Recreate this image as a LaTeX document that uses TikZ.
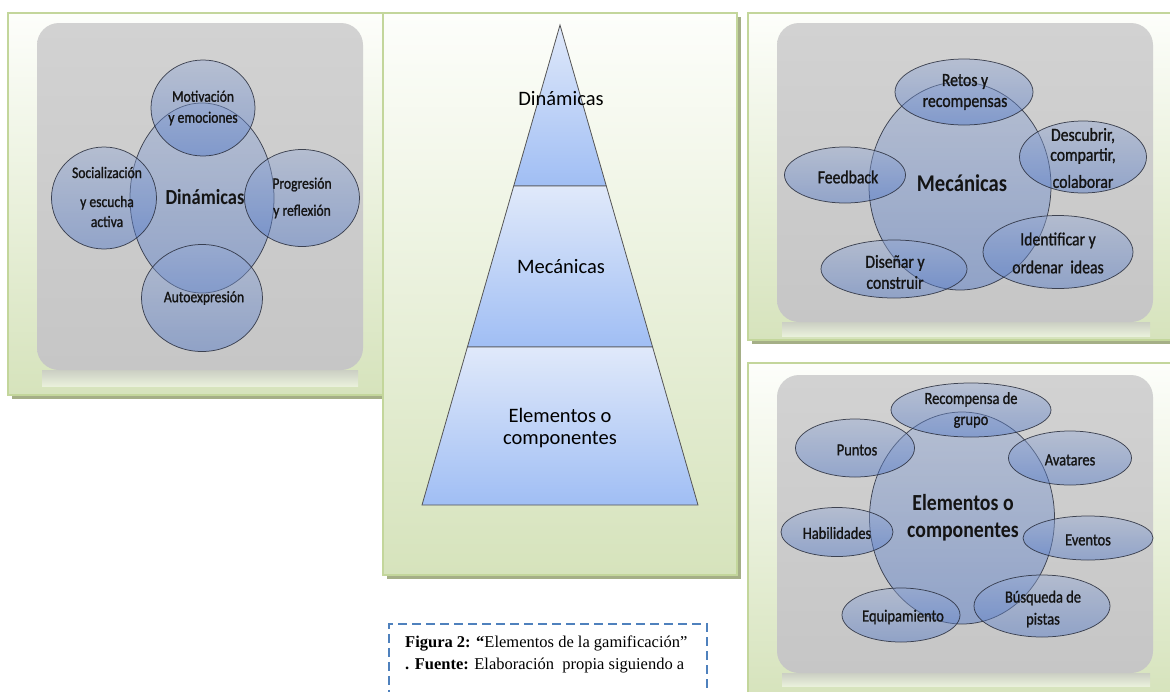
\documentclass[tikz,border=0pt]{standalone}
\usepackage{fontspec}
\setmainfont{Liberation Serif}
\newfontfamily\calib{Carlito}
\newfontfamily\calibc[FakeStretch=0.85, FakeBold=1.1]{Carlito}
\newfontfamily\calibcb[FakeStretch=0.86]{Carlito Bold}
\usetikzlibrary{shapes.geometric}
\definecolor{frameborder}{RGB}{195,214,155}
\definecolor{frametop}{RGB}{253,254,251}
\definecolor{framebot}{RGB}{214,227,188}
\definecolor{frameshadow}{RGB}{165,175,135}
\definecolor{graytop}{RGB}{210,210,210}
\definecolor{graybot}{RGB}{198,198,198}
\definecolor{bubtop}{RGB}{150,170,212}
\definecolor{bubbot}{RGB}{78,118,200}
\definecolor{bubline}{RGB}{40,45,60}
\definecolor{pyrtop}{RGB}{224,233,250}
\definecolor{pyrbot}{RGB}{160,190,244}
\definecolor{pyrline}{RGB}{85,85,85}
\definecolor{capblue}{RGB}{79,129,189}
\definecolor{txt}{RGB}{20,20,20}
\tikzset{
  framebox/.style={draw=frameborder, line width=1.5, top color=frametop, bottom color=framebot},
  shadowbox/.style={fill=frameshadow},
  graypanel/.style={top color=graytop, bottom color=graybot, rounded corners=22},
  reflect/.style={top color=graybot!70!framebot, bottom color=framebot!50!frametop},
  bub/.style={ellipse, draw=bubline, line width=0.75, draw opacity=0.85,
    top color=bubtop, bottom color=bubbot, fill opacity=0.45, inner sep=0, text opacity=1},
  pyr/.style={draw=pyrline, line width=0.8, top color=pyrtop, bottom color=pyrbot},
  lblL/.style={text=txt, align=center, font=\calibc\fontsize{16}{21}\selectfont},
  lblM/.style={text=txt, align=center, font=\calibc\fontsize{18.5}{21}\selectfont},
  lblE/.style={text=txt, align=center, font=\calibc\fontsize{17}{21}\selectfont},
  pyrtxt/.style={text=black, align=center, font=\calib\fontsize{20.5}{22}\selectfont},
  captxt/.style={anchor=west, inner sep=0, text=black, font=\fontsize{16.5}{20}\selectfont},
}
\begin{document}
\begin{tikzpicture}[x=1pt,y=-1pt]
\useasboundingbox (0,0) rectangle (1170,691);
\clip (0,0) rectangle (1170,691);
\fill[white] (0,0) rectangle (1170,691);

% ---------- left panel (Dinamicas) ----------
\fill[shadowbox] (12,17) rectangle (389,399);
\path[framebox] (8,13) rectangle (385,395);
\path[reflect] (42,370) rectangle (358,386);
\path[graypanel] (37,23) rectangle (363,370);
\node[bub, minimum width=144, minimum height=190] (dcen) at (202,198) {};
\node[bub, minimum width=104, minimum height=96] (mot) at (203,108) {};
\node[bub, minimum width=105, minimum height=102] (soc) at (104,198) {};
\node[bub, minimum width=115, minimum height=97] (pro) at (302,198) {};
\node[bub, minimum width=121, minimum height=107] (aut) at (202,298) {};
\node[text=txt, font=\calibcb\fontsize{21.5}{24}\selectfont] (dcen-t) at (205,197) {Dinámicas};
\node[lblL] (mot-t) at (mot.center) {Motivación\\y emociones};
\node[lblL] (soc-t) at (107,197) {Socialización\\[8pt]y escucha\\[-1pt]activa};
\node[lblL] (pro-t) at (302,198) {Progresión\\[6pt]y reflexión};
\node[lblL] (aut-t) at (204,298) {Autoexpresión};

% ---------- middle panel (pyramid) ----------
\fill[shadowbox] (387,17) rectangle (741,579);
\path[framebox] (383,13) rectangle (737,575);
\path[pyr] (560,25) -- (606.3,186) -- (513.7,186) -- cycle;
\path[pyr] (513.7,186) -- (606.3,186) -- (652.6,347) -- (467.4,347) -- cycle;
\path[pyr] (467.4,347) -- (652.6,347) -- (698,505) -- (422,505) -- cycle;
\node[pyrtxt] (p1) at (561,99) {Dinámicas};
\node[pyrtxt] (p2) at (561,267) {Mecánicas};
\node[pyrtxt] (p3) at (560,428) {Elementos o\\componentes};

% ---------- top right panel (Mecanicas) ----------
\fill[shadowbox] (752,17) rectangle (1176,344);
\path[framebox] (748,13) rectangle (1172,340);
\path[reflect] (782,322) rectangle (1150,336);
\path[graypanel] (777,23) rectangle (1153,322);
\node[bub, minimum width=182, minimum height=208] (mcen) at (960,186) {};
\node[bub, minimum width=138, minimum height=66] (ret) at (964,92) {};
\node[bub, minimum width=127, minimum height=72] (des) at (1083,157) {};
\node[bub, minimum width=121, minimum height=56] (fee) at (845,175) {};
\node[bub, minimum width=150, minimum height=73] (ide) at (1058,252) {};
\node[bub, minimum width=146, minimum height=58] (dis) at (894,269) {};
\node[text=txt, font=\calibcb\fontsize{24}{26}\selectfont] (mcen-t) at (962,183) {Mecánicas};
\node[lblM] (ret-t) at (965,92) {Retos y\\recompensas};
\node[lblM] (des-t) at (1083,158) {Descubrir,\\[-1pt]compartir,\\[6pt]colaborar};
\node[lblM] (fee-t) at (848,177) {Feedback};
\node[lblM] (ide-t) at (1058,253) {Identificar y\\[7pt]ordenar\ \ ideas};
\node[lblM] (dis-t) at (895,272) {Diseñar y\\construir};

% ---------- bottom right panel (Elementos) ----------
\fill[shadowbox] (752,367) rectangle (1176,700);
\path[framebox] (748,363) rectangle (1172,696);
\path[reflect] (782,673) rectangle (1150,686);
\path[graypanel] (777,375) rectangle (1153,673);
\node[bub, minimum width=185, minimum height=212] (ecen) at (962,518) {};
\node[bub, minimum width=160, minimum height=54] (rec) at (971,410) {};
\node[bub, minimum width=119, minimum height=58] (pun) at (855,448) {};
\node[bub, minimum width=123, minimum height=54] (ava) at (1070,458) {};
\node[bub, minimum width=112, minimum height=49] (hab) at (837,532) {};
\node[bub, minimum width=130, minimum height=44] (eve) at (1088,538) {};
\node[bub, minimum width=136, minimum height=62] (bus) at (1042,606) {};
\node[bub, minimum width=118, minimum height=54] (equ) at (901,615) {};
\node[text=txt, align=center, font=\calibcb\fontsize{23}{27}\selectfont] (ecen-t) at (963,518) {Elementos o\\componentes};
\node[lblE] (rec-t) at (971,410) {Recompensa de\\grupo};
\node[lblE] (pun-t) at (857,450) {Puntos};
\node[lblE] (ava-t) at (1070,460) {Avatares};
\node[lblE] (hab-t) at (837,533) {Habilidades};
\node[lblE] (eve-t) at (1088,540) {Eventos};
\node[lblE] (bus-t) at (1043,609) {Búsqueda de\\[1pt]pistas};
\node[lblE] (equ-t) at (903,617) {Equipamiento};

% ---------- caption ----------
\node[draw=capblue, line width=1.8, dash pattern=on 9 off 5, anchor=north west,
      minimum width=318, minimum height=110, inner sep=0] (capbox) at (388,623) {};
\node[captxt] (cap1) at (405,644) {\textbf{Figura 2: “}Elementos de la gamificación”};
\node[captxt] (cap2) at (405,666) {\textbf{. Fuente:} Elaboración\ \ propia siguiendo a};
\end{tikzpicture}
\end{document}
